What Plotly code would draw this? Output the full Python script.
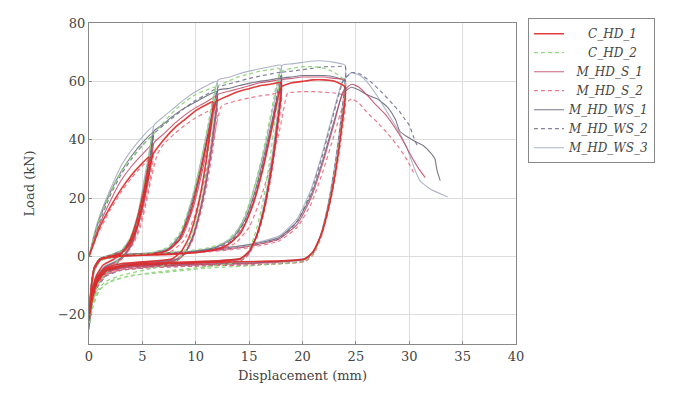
import plotly.graph_objects as go

# ---- data: (displacement mm, load kN) ----
C_HD_1 = [(0,0),(0.5,5),(1,10),(2,17),(3,23),(4,28),(5,32),(5.6,34),
 (5.3,25.5),(4.8,17),(4.2,9),(3.6,3.7),(2.9,0.5),(2.2,-1.2),(1.3,-3),(0.7,-6.5),(0.3,-12),(0,-21),
 (0.2,-11),(0.5,-4),(1,-1),(2,0),(3,1),(3.8,4),(4.5,10),(5.1,19),(5.6,28),(6.0,35),(7,40),(8,44),(9,47),(10,50),(11,52),(11.6,53),
 (11.25,40),(10.7,26.5),(10,14),(9.3,6),(8.6,1.5),(7.8,-0.8),(6,-1.6),(3,-2.5),(1.5,-4),(0.7,-7.5),(0.3,-13),(0,-22),
 (0.2,-11),(0.5,-4),(1.1,-1),(2.5,0),(5.5,0.6),(7.3,2),(8.5,6),(9.5,15),(10.4,28),(11.2,42),(11.9,53),(13,55),(14,56.5),(15,57.5),(16,58.5),(17,59),(18,59.5),
 (17.65,44.5),(17.1,30),(16.4,16),(15.7,7),(15,1.8),(14.2,-0.7),(12,-1.5),(8,-2),(4,-2.8),(1.5,-4.5),(0.7,-8),(0.3,-14),(0,-22),
 (0.2,-11),(0.5,-4),(1.1,-1),(2.5,0),(8,0.8),(11,1.8),(12.8,3.5),(14.2,8),(15.3,17),(16.3,30),(17.2,45),(18,58),(19,59.5),(20,60),(21,60.5),(22,60.5),(23,60),(24,58),
 (23.65,43.5),(23.1,29),(22.4,16),(21.7,7),(21,1.7),(20.2,-0.9),(17,-1.6),(12,-2),(7,-2.5),(3.5,-3.2),(1.6,-5),(0.8,-8.5),(0.35,-14),(0,-22)]

C_HD_2 = [(0,0),(0.5,7),(1,13),(2,22),(3,29),(4,34),(5,38),(5.8,41),
 (5.5,31),(5,20.5),(4.4,11),(3.8,4.5),(3.1,0.5),(2.4,-2.5),(1.5,-6),(0.8,-9.5),(0.35,-14),(0,-20),
 (0.2,-11),(0.5,-4),(1,-1),(2,0.5),(3,2),(3.8,6),(4.5,13),(5.1,23),(5.6,34),(5.9,41),(7,46),(8,50),(9,53),(10,55.5),(11,57),(11.8,58),
 (11.45,43.5),(10.9,29),(10.2,15.5),(9.5,6.5),(8.8,1),(8,-2),(6,-4),(3,-6.5),(1.6,-8.5),(0.8,-11.5),(0.3,-16),(0,-22),
 (0.2,-12),(0.5,-5),(1.1,-1.5),(2.5,0),(5.5,1),(7.3,3),(8.5,8),(9.5,18),(10.4,31),(11.2,46),(11.9,58),(13,60),(14,61.5),(15,62.5),(16,63.5),(17,64),(17.8,64.5),
 (17.45,48),(16.9,32),(16.2,17),(15.5,7),(14.8,1),(14,-1.8),(11,-3.5),(6,-5.5),(3.5,-7),(1.8,-9),(0.8,-12),(0.3,-17),(0,-23),
 (0.2,-12),(0.5,-5),(1.1,-1.5),(2.5,0),(8,1.5),(11,2.8),(12.8,5),(14.1,10),(15.2,20),(16.2,34),(17.1,50),(17.9,63),(19,64.5),(20,65),(21,65),(22,64.5),(23,63),(24,60),
 (23.65,45),(23.1,30),(22.4,16.5),(21.7,7),(21,1),(20.2,-1.5),(16,-3),(11,-4),(7,-5.5),(4,-6.5),(2,-8.5),(1,-11.5),(0.4,-17),(0,-24)]

M_HD_S_1 = [(0,0),(0.5,6),(1,11),(2,19),(3,26),(4,31),(5,35),(6,38.5),
 (5.7,29),(5.2,19),(4.6,10.5),(4,4),(3.3,0.5),(2.6,-1.8),(1.5,-3.8),(0.8,-7),(0.3,-12),(0,-20),
 (0.2,-10),(0.5,-3.5),(1,-0.8),(2,0.3),(3.1,1.5),(3.9,5),(4.6,12),(5.2,22),(5.7,32),(6.1,39),(7,42),(8,45.5),(9,48.5),(10,51),(11,53),(12,55),
 (11.65,41),(11.1,27.5),(10.4,15),(9.7,6),(9,1.2),(8.2,-1.2),(5,-2.5),(3,-3.2),(1.6,-5),(0.8,-8),(0.3,-13),(0,-21),
 (0.2,-11),(0.5,-4),(1.1,-1),(2.5,0.2),(5.6,0.8),(7.5,2.2),(8.7,6.5),(9.7,16),(10.6,29),(11.4,43),(12.1,55.5),(13,56.5),(14,57.5),(15,58.5),(16,59.5),(17,60),(18,60.5),
 (17.65,45.5),(17.1,30),(16.4,16.5),(15.7,7),(15,1.5),(14.2,-1),(10,-2.3),(6,-3),(3,-4),(1.6,-5.5),(0.8,-9),(0.3,-14),(0,-23),
 (0.2,-12),(0.5,-4.5),(1.1,-1),(3,0.3),(9,1.2),(11.8,2.5),(13.4,5),(14.6,11),(15.6,21),(16.5,34),(17.3,48),(18.1,60.5),(19,61),(20,61.5),(21,61.5),(22,61.5),(23,61),(24,60.5),
 (23.65,45.5),(23.1,30),(22.4,16.5),(21.7,7),(21,1.5),(20.2,-1),(16,-2.3),(11,-2.8),(6,-3.3),(3,-4),(1.6,-5.5),(0.8,-9),(0.3,-14),(0,-23),
 (0.2,-12),(0.5,-4.5),(1.1,-1),(3,0.5),(10,1.5),(15,3.5),(17.8,6),(19.5,11),(20.8,20),(21.9,32),(23,46),(23.8,56.5),(24.6,59),
 (25.3,58),(26,55.5),(27,51.5),(27.8,48.5),(28.5,45),(29.2,41),(29.8,37),(30.4,33),(30.9,30),(31.5,27)]

M_HD_S_2 = [(0,0),(0.5,5),(1,9),(2,16),(3,22),(4,27),(5,31),(6,34.5),
 (5.7,26),(5.2,17),(4.6,9),(4,3.5),(3.3,0),(2.6,-2.2),(1.5,-4.5),(0.8,-7.5),(0.3,-12),(0,-19),
 (0.2,-10),(0.5,-3.5),(1,-1),(2,0),(3.2,1.2),(4.1,4),(4.8,10),(5.4,19),(5.9,28),(6.4,35),(7,38.5),(8,42),(9,45),(10,47.5),(11,49.5),(12,51),
 (11.65,38),(11.1,25.5),(10.4,14),(9.7,5.5),(9,0.8),(8.2,-1.5),(5,-3),(3,-4),(1.6,-5.8),(0.8,-9),(0.3,-14),(0,-21),
 (0.2,-11),(0.5,-4),(1.1,-1.2),(2.5,0),(5.8,0.6),(7.7,1.8),(8.9,5.5),(9.9,14),(10.8,26),(11.6,39),(12.4,51.5),(13,52.5),(14,53.5),(15,54.3),(16,55),(17,55.5),(18,56),
 (17.65,42),(17.1,28),(16.4,15),(15.7,6),(15,0.8),(14.2,-1.5),(10,-2.8),(6,-3.5),(3,-4.5),(1.6,-6.2),(0.8,-9.5),(0.3,-15),(0,-22),
 (0.2,-12),(0.5,-4.5),(1.1,-1.2),(3,0),(9,1),(12,2.2),(13.7,4.5),(15,10),(16,19),(17,31),(17.9,44),(18.6,56),(19,56.2),(20,56.5),(21,56.5),(22,56.3),(23,56),(24,55),
 (23.65,41),(23.1,27.5),(22.4,15),(21.7,6),(21,0.5),(20.2,-1.8),(16,-2.8),(11,-3.2),(6,-3.8),(3,-4.6),(1.6,-6.3),(0.8,-10),(0.3,-15),(0,-22),
 (0.2,-12),(0.5,-4.5),(1.1,-1.2),(3,0.2),(10,1.2),(15,3),(17.8,5.3),(19.5,10),(20.8,18),(21.9,29),(23,42),(23.8,51.5),(24.6,54),
 (25.3,52.5),(26,49.5),(27,46),(28,42),(29,37.5),(29.8,33),(30.5,28)]

M_HD_WS_1 = [(0,0),(0.5,7),(1,13),(2,22),(3,29),(4,34.5),(5,39),(6,42.5),
 (5.7,32),(5.2,21),(4.6,11.5),(4,4.5),(3.3,0.5),(2.6,-1.6),(1.5,-3.5),(0.8,-6.5),(0.3,-12),(0,-22),
 (0.2,-11),(0.5,-3.5),(1,-0.8),(2,0.5),(3.1,2),(3.9,6),(4.6,14),(5.2,25),(5.7,35),(6.1,43),(7,45.5),(8,48.5),(9,51),(10,53),(11,55),(12,56.5),
 (11.65,42.5),(11.1,28),(10.4,15.5),(9.7,6.5),(9,1.2),(8.2,-1),(5,-2.2),(3,-3),(1.6,-4.5),(0.8,-7.5),(0.3,-13),(0,-23),
 (0.2,-12),(0.5,-4),(1.1,-1),(2.5,0.3),(5.6,1),(7.4,2.6),(8.6,7.5),(9.6,18),(10.5,31),(11.3,45),(12.1,57),(13,57.5),(14,58.5),(15,59.3),(16,60),(17,60.5),(18,61),
 (17.65,46),(17.1,30.5),(16.4,16.5),(15.7,7),(15,1.5),(14.2,-0.8),(10,-2),(6,-2.8),(3,-3.8),(1.6,-5.3),(0.8,-8.5),(0.3,-14),(0,-24),
 (0.2,-12),(0.5,-4.5),(1.1,-1),(3,0.5),(9,1.5),(11.8,3),(13.4,6),(14.6,12.5),(15.6,23),(16.5,36),(17.3,49),(18.1,61),(19,61.5),(20,62),(21,62),(22,62),(23,61.5),(24,60),
 (23.65,45),(23.1,30),(22.4,16.5),(21.7,7),(21,1.3),(20.2,-0.9),(16,-2.1),(11,-2.6),(6,-3.1),(3,-3.8),(1.6,-5.3),(0.8,-8.5),(0.3,-14),(0,-24),
 (0.2,-12),(0.5,-4.5),(1.1,-1),(3,0.6),(10,1.8),(15,4),(17.8,6.5),(19.5,12),(20.8,21),(21.9,33),(23,47),(23.8,56),(24.6,58),
 (25.3,57),(26,55.5),(27,54),(28,51),(28.7,47),(29.1,43),(29.8,41),(30.5,39.5),(31.3,38),(32,35.5),(32.4,33.5),(32.6,29.5),(32.9,26)]

M_HD_WS_2 = [(0,0),(0.5,6),(1,12),(2,21),(3,28),(4,33.5),(5,38),(6,41.5),
 (5.7,31),(5.2,20.5),(4.6,11),(4,4),(3.3,0),(2.6,-2.5),(1.5,-5),(0.8,-8),(0.3,-14),(0,-23),
 (0.2,-12),(0.5,-4.5),(1,-1.2),(2,0),(3.1,1.5),(3.9,5.5),(4.6,13),(5.2,24),(5.7,34),(6.1,42),(7,45),(8,48),(9,51),(10,53.5),(11,55.5),(12,57.5),
 (11.65,43),(11.1,29),(10.4,15.5),(9.7,6.5),(9,1),(8.2,-1.5),(5,-3),(3,-4),(1.6,-5.8),(0.8,-9),(0.3,-15),(0,-24),
 (0.2,-12),(0.5,-4.5),(1.1,-1.3),(2.5,0),(5.6,0.8),(7.4,2.2),(8.6,7),(9.6,17),(10.5,30),(11.3,44),(12.1,58),(13,59),(14,60),(15,61),(16,61.8),(17,62.5),(18,63),
 (17.65,47),(17.1,31.5),(16.4,17),(15.7,7),(15,1),(14.2,-1.5),(10,-2.8),(6,-3.5),(3,-4.5),(1.6,-6.5),(0.8,-10),(0.3,-16),(0,-25),
 (0.2,-13),(0.5,-5),(1.1,-1.3),(3,0),(9,1.2),(11.8,2.6),(13.4,5.5),(14.6,12),(15.6,22),(16.5,35),(17.3,49),(18.1,63),(19,63.5),(20,64),(21,64.5),(22,65),(23,65),(24,65),
 (23.65,48.5),(23.1,32.5),(22.4,17.5),(21.7,7),(21,1),(20.2,-1.5),(16,-2.8),(11,-3.2),(6,-3.8),(3,-4.8),(1.6,-6.8),(0.8,-10.5),(0.3,-16),(0,-25),
 (0.2,-13),(0.5,-5),(1.1,-1.3),(3,0.2),(10,1.4),(15,3.5),(17.8,6),(19.5,12),(20.8,22),(21.9,35),(23,50),(23.8,60),(24.6,63),
 (25.4,62.5),(26.5,59.5),(27.5,56),(28.5,52),(29.1,49.6),(29.6,47),(30,45),(30.4,41),(30.8,37.5)]

M_HD_WS_3 = [(0,0),(0.5,8),(1,14),(2,23),(3,31),(4,36.5),(5,41),(6,44.5),
 (5.7,33.5),(5.2,22),(4.6,12),(4,5),(3.3,0.8),(2.6,-1.4),(1.5,-3.2),(0.8,-6),(0.3,-11),(0,-20),
 (0.2,-10),(0.5,-3.5),(1,-0.8),(2,0.5),(3.1,2.2),(3.9,6.5),(4.6,15),(5.2,27),(5.7,37),(6.1,45),(7,48),(8,51),(9,54),(10,56.5),(11,58.5),(12,60),
 (11.65,45),(11.1,30),(10.4,16.5),(9.7,7),(9,1.5),(8.2,-0.7),(5,-2),(3,-2.7),(1.6,-4.2),(0.8,-7),(0.3,-12),(0,-21),
 (0.2,-10),(0.5,-3.5),(1.1,-0.8),(2.5,0.3),(5.6,1),(7.4,2.8),(8.6,8),(9.6,19),(10.5,33),(11.3,47),(12.1,60.5),(13,61.3),(14,62.5),(15,63.5),(16,64.3),(17,65),(18,65.5),
 (17.65,49),(17.1,33),(16.4,18),(15.7,7.5),(15,1.5),(14.2,-0.6),(10,-1.8),(6,-2.5),(3,-3.4),(1.6,-5),(0.8,-8),(0.3,-13),(0,-22),
 (0.2,-11),(0.5,-4),(1.1,-0.8),(3,0.5),(9,1.5),(11.8,3.2),(13.4,6.5),(14.6,13.5),(15.6,25),(16.5,38),(17.3,52),(18.1,65.5),(19,66),(20,66.5),(21,67),(22,67),(23,66.5),(24,65.5),
 (23.65,49),(23.1,33),(22.4,18),(21.7,7.5),(21,1.5),(20.2,-0.6),(16,-1.9),(11,-2.4),(6,-2.9),(3,-3.6),(1.6,-5),(0.8,-8),(0.3,-13),(0,-22),
 (0.2,-11),(0.5,-4),(1.1,-0.8),(3,0.6),(10,1.8),(15,4.2),(17.8,7),(19.5,13),(20.8,23),(21.9,36),(23,51),(23.8,60.5),(24.6,63),
 (25.4,62),(26,60),(27,55),(28,49),(29,43),(29.8,37),(30.5,30),(31,26),(32,23),(33.6,20.4)]

series_names = ["C_HD_1", "C_HD_2", "M_HD_S_1", "M_HD_S_2", "M_HD_WS_1", "M_HD_WS_2", "M_HD_WS_3"]
series_data = [C_HD_1, C_HD_2, M_HD_S_1, M_HD_S_2, M_HD_WS_1, M_HD_WS_2, M_HD_WS_3]
x_ticks = [0, 5, 10, 15, 20, 25, 30, 35, 40]
y_ticks = [-20, 0, 20, 40, 60, 80]

styles = [
    dict(color="rgba(222,40,40,0.9)", width=1.6, dash="solid"),
    dict(color="rgba(140,212,120,0.9)", width=1.3, dash="4px,3px"),
    dict(color="rgba(190,70,100,0.85)", width=1.1, dash="solid"),
    dict(color="rgba(232,100,120,0.85)", width=1.2, dash="4px,3px"),
    dict(color="rgba(105,105,125,0.9)", width=1.1, dash="solid"),
    dict(color="rgba(115,115,145,0.9)", width=1.2, dash="4px,3px"),
    dict(color="rgba(165,172,192,0.9)", width=1.1, dash="solid"),
]
pads = ["\u00a0\u00a0\u00a0\u00a0\u00a0", "\u00a0\u00a0\u00a0\u00a0\u00a0", "\u00a0\u00a0", "\u00a0\u00a0", "", "", ""]
draw_order = [6, 5, 4, 3, 2, 1, 0]   # red drawn last (on top)

serif = "DejaVu Serif"

fig = go.Figure()
for i in draw_order:
    xs, ys = zip(*series_data[i])
    st = styles[i]
    fig.add_trace(go.Scatter(
        x=list(xs), y=list(ys), mode="lines", name=pads[i] + series_names[i],
        legendrank=i + 1,
        line=dict(color=st["color"], width=st["width"], dash=st["dash"],
                  shape="spline", smoothing=0.5),
    ))

fig.update_layout(
    width=679, height=393,
    margin=dict(l=81, r=171, t=8, b=57),
    paper_bgcolor="white", plot_bgcolor="white",
    font=dict(family=serif, size=13, color="#444"),
    showlegend=True,
    legend=dict(
        x=1.028, xanchor="left", y=1.015, yanchor="top",
        bgcolor="white", bordercolor="#888", borderwidth=1,
        font=dict(family=serif, size=12, color="#444", style="italic"),
        itemwidth=30, tracegroupgap=0, traceorder="normal",
    ),
    xaxis=dict(
        range=[0, 40], tickvals=x_ticks, ticktext=[str(v) for v in x_ticks],
        showgrid=True, gridcolor="#dddddd", gridwidth=1, zeroline=False,
        showline=True, linecolor="#888", linewidth=1, mirror=True,
        ticks="inside", ticklen=3, tickcolor="#888",
        tickfont=dict(family=serif, size=13, color="#444"),
        title=dict(text="Displacement (mm)", font=dict(family=serif, size=13, color="#444"), standoff=8),
    ),
    yaxis=dict(
        range=[-30, 80], tickvals=y_ticks,
        ticktext=[("\u2212" + str(-v)) if v < 0 else str(v) for v in y_ticks],
        showgrid=True, gridcolor="#dddddd", gridwidth=1, zeroline=False,
        showline=True, linecolor="#888", linewidth=1, mirror=True,
        ticks="inside", ticklen=3, tickcolor="#888",
        tickfont=dict(family=serif, size=13, color="#444"),
        title=dict(text="Load (kN)", font=dict(family=serif, size=13, color="#444"), standoff=20),
    ),
)

fig.write_html("out.html")
